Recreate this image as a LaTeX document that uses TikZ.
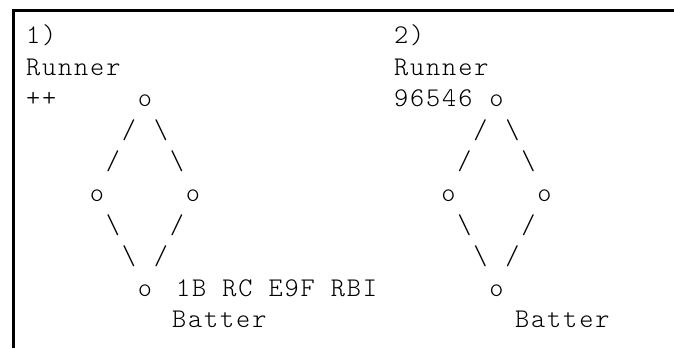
\documentclass[tikz,border=0pt]{standalone}
\usepackage{fontspec}
\newfontfamily\spacedmono[LetterSpace=6.8]{lmmonolt10-regular.otf}
\newfontfamily\plainmono{lmmonolt10-regular.otf}
\begin{document}
\begin{tikzpicture}[x=1pt,y=-1pt,
  txt/.style={anchor=base west, inner sep=0pt, font=\spacedmono\fontsize{27}{27}\selectfont},
  ch/.style={anchor=base, inner sep=0pt, font=\plainmono\fontsize{27}{27}\selectfont},
  frame/.style={line width=3pt}]
\useasboundingbox (0,0) rectangle (674,348);
\def\ra{43.4}\def\rb{75}\def\rc{106.6}\def\rd{138.2}\def\re{169.8}
\def\rf{201.4}\def\rg{233}\def\rh{264.6}\def\ri{296.2}\def\rj{327.8}
\draw[frame] (13,348) -- (13,10) -- (674,10);
% diagram 1
\node[txt] (n1) at (26,\ra) {1)};
\node[txt] (r1) at (26,\rb) {Runner};
\node[txt] (p1) at (26,\rc) {++};
\node[ch] (t1) at (145,\rc) {o};
\node[ch] (a1) at (129,\rd) {/};
\node[ch] (b1) at (161,\rd) {\char`\\};
\node[ch] (c1) at (113,\re) {/};
\node[ch] (d1) at (177,\re) {\char`\\};
\node[ch] (l1) at (97,\rf) {o};
\node[ch] (g1) at (193,\rf) {o};
\node[ch] (e1) at (113,\rg) {\char`\\};
\node[ch] (f1) at (177,\rg) {/};
\node[ch] (h1) at (129,\rh) {\char`\\};
\node[ch] (i1) at (161,\rh) {/};
\node[ch] (o1) at (145,\ri) {o};
\node[txt] (s1) at (176,\ri) {1B RC E9F RBI};
\node[txt] (bt1) at (172,\rj) {Batter};
% diagram 2
\node[txt] (n2) at (394,\ra) {2)};
\node[txt] (r2) at (394,\rb) {Runner};
\node[txt] (p2) at (394,\rc) {96546};
\node[ch] (t2) at (496.5,\rc) {o};
\node[ch] (a2) at (480.5,\rd) {/};
\node[ch] (b2) at (512.5,\rd) {\char`\\};
\node[ch] (c2) at (464.5,\re) {/};
\node[ch] (d2) at (528.5,\re) {\char`\\};
\node[ch] (l2) at (448.5,\rf) {o};
\node[ch] (g2) at (544.5,\rf) {o};
\node[ch] (e2) at (464.5,\rg) {\char`\\};
\node[ch] (f2) at (528.5,\rg) {/};
\node[ch] (h2) at (480.5,\rh) {\char`\\};
\node[ch] (i2) at (512.5,\rh) {/};
\node[ch] (o2) at (496.5,\ri) {o};
\node[txt] (bt2) at (515,\rj) {Batter};
\end{tikzpicture}
\end{document}
